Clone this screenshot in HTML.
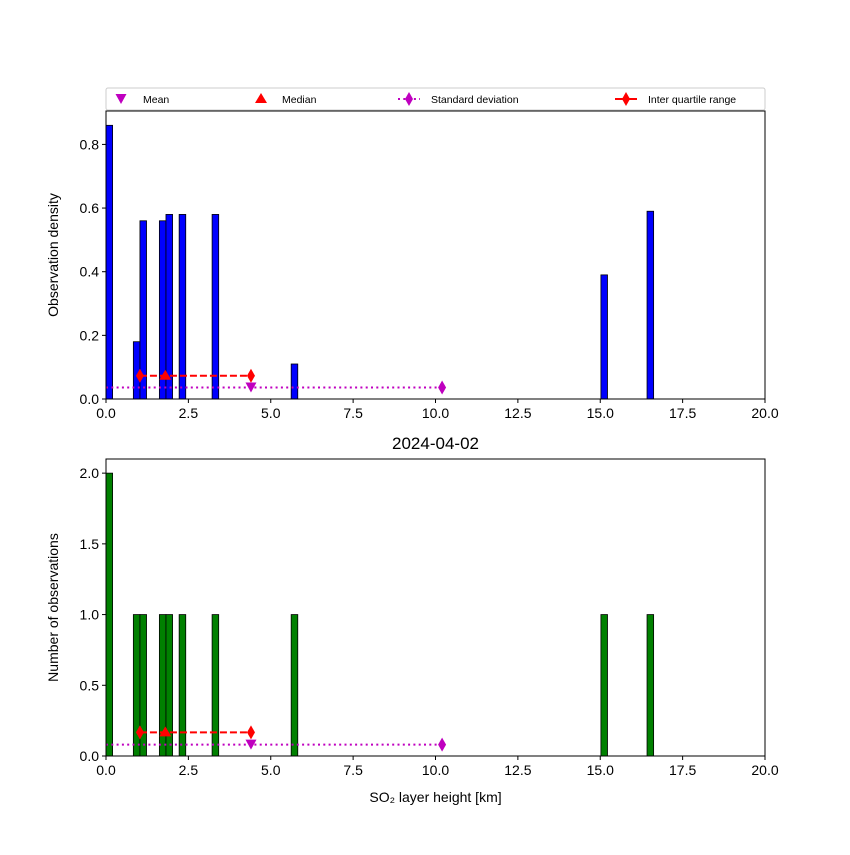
<!DOCTYPE html>
<html><head><meta charset="utf-8"><style>
body{margin:0;background:#fff}
svg{font-family:"Liberation Sans","DejaVu Sans",sans-serif}
</style></head><body>
<svg id="c" width="850" height="850" xmlns="http://www.w3.org/2000/svg"></svg>
<script>
const binLefts=[0,0.83,1.03,1.62,1.82,2.22,3.22,5.62,15.02,16.42];
const binWidth=0.2;
const densities=[0.86,0.18,0.56,0.56,0.58,0.58,0.58,0.11,0.39,0.59];
const counts=[2,1,1,1,1,1,1,1,1,1];
const stats={q1:1.03,median:1.8,q3:4.4,mean:4.4,stdHi:10.2};
const xTicks=[0,2.5,5,7.5,10,12.5,15,17.5,20];
const xTickLabels=["0.0","2.5","5.0","7.5","10.0","12.5","15.0","17.5","20.0"];
const topTicks=[0,0.2,0.4,0.6,0.8];
const topTickLabels=["0.0","0.2","0.4","0.6","0.8"];
const botTicks=[0,0.5,1,1.5,2];
const botTickLabels=["0.0","0.5","1.0","1.5","2.0"];
const topMarkY={iqr:0.073,mean:0.036};
const botMarkY={iqr:0.167,mean:0.08};

const NS="http://www.w3.org/2000/svg";
const svg=document.getElementById('c');
function mk(t,a,p){const e=document.createElementNS(NS,t);for(const k in a)e.setAttribute(k,a[k]);(p||svg).appendChild(e);return e;}
const X0=106,X1=765;
const sx=v=>X0+(v/20)*(X1-X0);

function panel(top,bot,ymax,vals,color,ticks,tlabels,ylabel,my,pname){
  const sy=v=>bot-(v/ymax)*(bot-top);
  const g=mk('g',{});
  
  
  vals.forEach((v,i)=>{
    const r=mk('rect',{x:sx(binLefts[i]),y:sy(v),width:sx(binWidth)-sx(0),height:bot-sy(v),fill:color,stroke:'#000','stroke-width':0.8},g);
    
    
  });
  // std dotted
  const sl=mk('line',{x1:X0,x2:sx(stats.stdHi),y1:sy(my.mean),y2:sy(my.mean),stroke:'#bf00bf','stroke-width':2,'stroke-dasharray':'2,3.3'},g);
  
  
  const sd=mk('path',{d:`M${sx(stats.stdHi)},${sy(my.mean)-7}l4,7l-4,7l-4,-7z`,fill:'#bf00bf'},g);
  
  
  // iqr
  const il=mk('line',{x1:sx(stats.q1),x2:sx(stats.q3),y1:sy(my.iqr),y2:sy(my.iqr),stroke:'red','stroke-width':2,'stroke-dasharray':'7,3'},g);
  
  
  [stats.q1,stats.q3].forEach(q=>{
    const d=mk('path',{d:`M${sx(q)},${sy(my.iqr)-7}l4,7l-4,7l-4,-7z`,fill:'red'},g);
    
    
  });
  const md=mk('path',{d:`M${sx(stats.median)},${sy(my.iqr)-6}l6,10h-12z`,fill:'red'},g);
  
  
  const mn=mk('path',{d:`M${sx(stats.mean)-5.5},${sy(my.mean)-5}h11l-5.5,10z`,fill:'#bf00bf'},g);
  
  
  const fr=mk('rect',{x:X0,y:top,width:X1-X0,height:bot-top,fill:'none',stroke:'#000','stroke-width':1},g);
  
  
  xTicks.forEach((t,i)=>{
    mk('line',{x1:sx(t),x2:sx(t),y1:bot,y2:bot+4,stroke:'#000'},g);
    const tx=mk('text',{x:sx(t),y:bot+19,'font-size':14,'text-anchor':'middle'},g);
    tx.textContent=xTickLabels[i];
    
    
  });
  ticks.forEach((t,i)=>{
    mk('line',{x1:X0-4,x2:X0,y1:sy(t),y2:sy(t),stroke:'#000'},g);
    const tx=mk('text',{x:X0-7,y:sy(t)+5,'font-size':14,'text-anchor':'end'},g);
    tx.textContent=tlabels[i];
    
    
  });
  const yl=mk('text',{x:0,y:0,'font-size':14,'text-anchor':'middle',transform:`translate(58,${(top+bot)/2}) rotate(-90)`},g);
  yl.textContent=ylabel;
  
  
}
panel(111,399,0.905,densities,'#0000ff',topTicks,topTickLabels,'Observation density',topMarkY,'density-panel');
panel(459,756,2.1,counts,'#008000',botTicks,botTickLabels,'Number of observations',botMarkY,'count-panel');

const title=mk('text',{x:435.5,y:449,'font-size':17,'text-anchor':'middle'});
title.textContent='2024-04-02';


const xl=mk('text',{x:435.5,y:802,'font-size':14,'text-anchor':'middle'});
xl.textContent='SO₂ layer height [km]';



// legend
const lg=mk('g',{});


mk('rect',{x:106,y:88,width:659,height:22,rx:2,fill:'#fff',stroke:'#ccc'},lg);
const e1=mk('path',{d:'M115.5,94h11l-5.5,10z',fill:'#bf00bf'},lg);


const e2=mk('path',{d:'M261,93l6,10h-12z',fill:'red'},lg);


mk('line',{x1:398,x2:420,y1:99,y2:99,stroke:'#bf00bf','stroke-width':2,'stroke-dasharray':'2,3.3'},lg);
mk('path',{d:'M409,92l4,7l-4,7l-4,-7z',fill:'#bf00bf'},lg);
mk('line',{x1:615,x2:637,y1:99,y2:99,stroke:'red','stroke-width':2},lg);
mk('path',{d:'M626,92l4,7l-4,7l-4,-7z',fill:'red'},lg);
[['Mean',143],['Median',282],['Standard deviation',431],['Inter quartile range',648]].forEach(([t,x])=>{
  const tx=mk('text',{x:x,y:103,'font-size':10.5},lg);
  tx.textContent=t;
  
  
});
</script>
</body></html>
